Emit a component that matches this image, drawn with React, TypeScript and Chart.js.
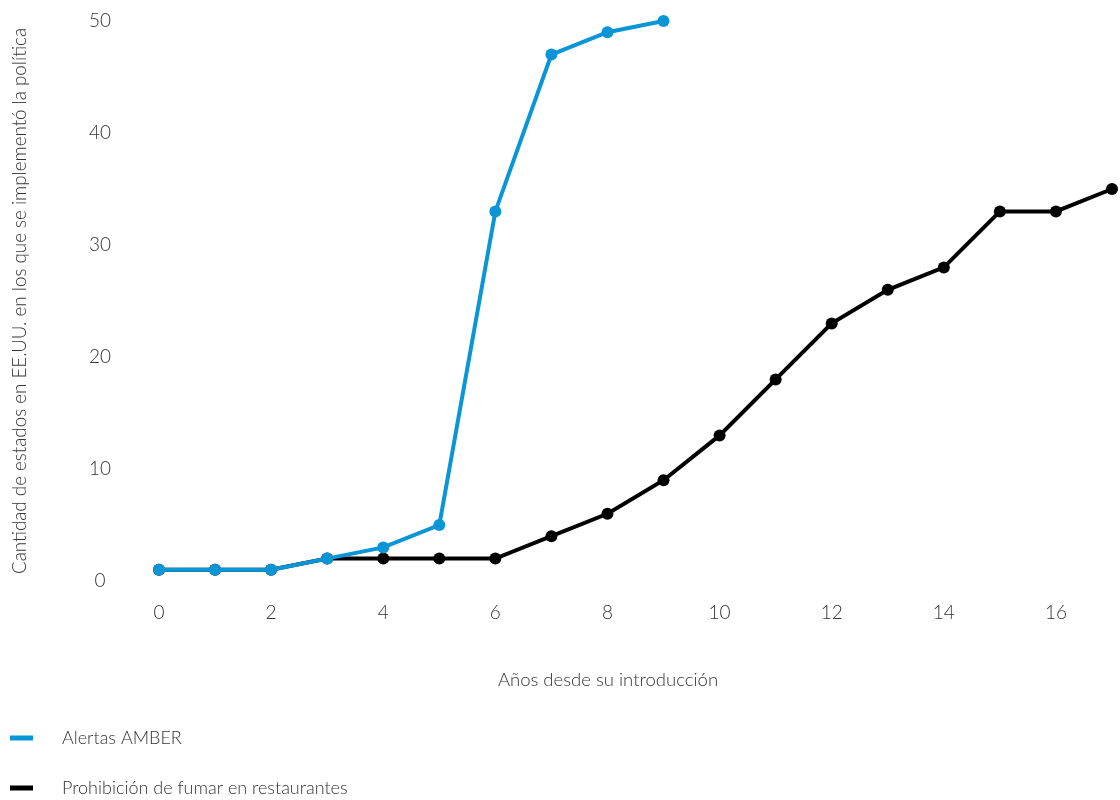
import React, { useEffect, useRef } from "react";
import { Chart, registerables } from "chart.js";

Chart.register(...registerables);

const years = [0, 1, 2, 3, 4, 5, 6, 7, 8, 9, 10, 11, 12, 13, 14, 15, 16, 17];
const amberValues = [1, 1, 1, 2, 3, 5, 33, 47, 49, 50];
const smokingValues = [1, 1, 1, 2, 2, 2, 2, 4, 6, 9, 13, 18, 23, 26, 28, 33, 33, 35];
const seriesLabels = ["Alertas AMBER", "Prohibición de fumar en restaurantes"];
const seriesColors = ["#0a96d6", "#000000"];
const xTickValues = [0, 2, 4, 6, 8, 10, 12, 14, 16];
const yTickValues = [0, 10, 20, 30, 40, 50];
const xTitle = "Años desde su introducción";
const yTitle = "Cantidad de estados en EE.UU. en los que se implementó la política";

const FONT = "Lato, 'Open Sans', sans-serif";
const TEXT = "#333333";

const legendPlugin = {
  id: "leftLegend",
  afterDraw(chart: any) {
    const ctx = chart.ctx;
    ctx.save();
    // x-axis title
    ctx.fillStyle = TEXT;
    ctx.font = `300 18.5px ${FONT}`;
    ctx.textBaseline = "middle";
    ctx.textAlign = "center";
    ctx.fillText(xTitle, 608, 680);
    // legend
    chart.data.datasets.forEach((ds: any, i: number) => {
      const y = 738 + i * 50;
      ctx.fillStyle = ds.borderColor;
      ctx.fillRect(10, y - 2.5, 23, 5);
      ctx.fillStyle = TEXT;
      ctx.font = `300 18px ${FONT}`;
      ctx.textBaseline = "middle";
      ctx.textAlign = "left";
      ctx.fillText(ds.label, 62, y);
    });
    ctx.restore();
  },
};

export default function App() {
  const ref = useRef<HTMLCanvasElement | null>(null);
  useEffect(() => {
    if (!ref.current) return;
    const toPoints = (vals: number[]) => vals.map((v, i) => ({ x: years[i], y: v }));
    const chart = new Chart(ref.current, {
      type: "line",
      data: {
        datasets: [amberValues, smokingValues].map((vals, i) => ({
          label: seriesLabels[i],
          data: toPoints(vals),
          borderColor: seriesColors[i],
          backgroundColor: seriesColors[i],
          pointBackgroundColor: seriesColors[i],
          pointBorderColor: seriesColors[i],
          borderWidth: 4,
          pointRadius: 6,
          pointBorderWidth: 0,
          tension: 0,
          clip: false as any,
        })),
      },
      options: {
        animation: false,
        responsive: false,
        maintainAspectRatio: false,
        layout: { padding: { top: 21, right: 8, left: 0, bottom: 100 } },
        plugins: { legend: { display: false }, tooltip: { enabled: false } },
        scales: {
          x: {
            type: "linear",
            min: 0,
            max: 17,
            afterBuildTicks: (s: any) => {
              s.ticks = xTickValues.map((v) => ({ value: v }));
            },
            afterFit: (s: any) => {
              s.height = 119;
            },
            grid: { display: false, drawTicks: false },
            border: { display: false },
            ticks: { padding: 20, color: TEXT, font: { family: FONT, size: 19, weight: "300" as any }, maxRotation: 0 },
            title: { display: false },
          },
          y: {
            min: 0,
            max: 50,
            afterBuildTicks: (s: any) => {
              s.ticks = yTickValues.map((v) => ({ value: v }));
            },
            afterFit: (s: any) => {
              s.width = 159;
              s.paddingTop = 8;
              s.paddingBottom = 8;
            },
            grid: { display: false, drawTicks: false },
            border: { display: false },
            ticks: { padding: 48, crossAlign: "center", color: TEXT, font: { family: FONT, size: 19, weight: "300" as any } },
            title: {
              display: true,
              text: yTitle,
              color: TEXT,
              font: { family: FONT, size: 18.8, weight: "300" as any },
              padding: { top: 9, bottom: 0 },
            },
          },
        },
      },
      plugins: [legendPlugin],
    });
    return () => chart.destroy();
  }, []);
  return (
    <div style={{ position: "fixed", left: 0, top: 0, width: 1120, height: 800, background: "#fff" }}>
      <canvas ref={ref} width={1120} height={800} style={{ width: 1120, height: 800, display: "block" }} />
    </div>
  );
}
